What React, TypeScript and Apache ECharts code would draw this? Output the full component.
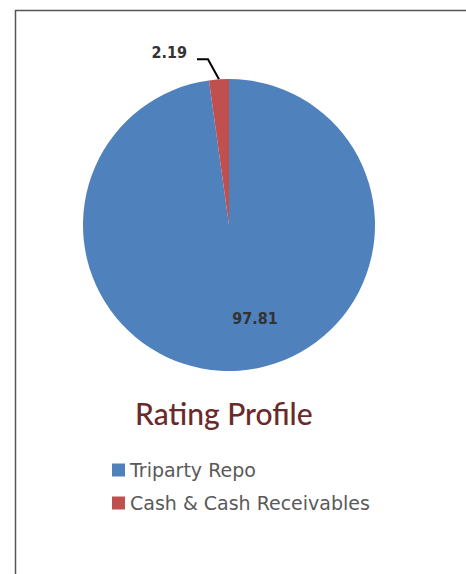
import React, { useEffect, useRef } from "react";
import * as echarts from "echarts";

const categories = ["Triparty Repo", "Cash & Cash Receivables"];
const values = [97.81, 2.19];
const colors = ["#4F81BD", "#C0504D"];
const titleText = "Rating Profile";

export default function App() {
  const ref = useRef<HTMLDivElement>(null);
  useEffect(() => {
    if (!ref.current) return;
    const chart = echarts.init(ref.current, null, { renderer: "svg" });
    chart.setOption({
      animation: false,
      graphic: [
        {
          type: "rect",
          shape: { x: 15.5, y: 10.5, width: 520, height: 620 },
          style: { fill: "none", stroke: "#555555", lineWidth: 1.5 },
          silent: true,
        },
        {
          type: "text",
          left: 135,
          top: 398,
          style: {
            text: titleText,
            fill: "#6B2A2A",
            font: "500 30px Lato",
          },
        },
      ],
      legend: {
        orient: "vertical",
        left: 107,
        top: 455,
        itemWidth: 13,
        itemHeight: 13,
        itemGap: 13,
        icon: "rect",
        data: categories,
        textStyle: {
          color: "#595959",
          fontSize: 19,
          fontFamily: "DejaVu Sans",
          lineHeight: 20,
        },
      },
      series: [
        {
          type: "pie",
          center: [229, 225],
          radius: 146,
          startAngle: 90,
          clockwise: true,
          data: categories.map((c, i) => ({
            name: c,
            value: values[i],
            itemStyle: { color: colors[i] },
          })),
          label: {
            show: true,
            formatter: (p: any) => p.value.toFixed(2),
            fontFamily: "DejaVu Sans Condensed",
            fontWeight: "bold",
            fontSize: 16,
            color: "#333333",
            position: "outside",
          },
          labelLine: {
            show: true,
            length: 20,
            length2: 10,
            lineStyle: { color: "#000000", width: 2 },
          },
          labelLayout: (params: any) => {
            if (params.dataIndex === 0) {
              const cx = 229;
              const cy = 225;
              return {
                x: cx + 26,
                y: cy + 93,
                align: "center",
                verticalAlign: "middle",
                labelLinePoints: [
                  [cx, cy],
                  [cx, cy],
                  [cx, cy],
                ],
              };
            }
            const p0 = params.labelLinePoints ? params.labelLinePoints[0] : [219, 79];
            return {
              x: p0[0] - 32,
              y: p0[1] - 27,
              align: "right",
              verticalAlign: "middle",
              labelLinePoints: [
                p0,
                [p0[0] - 11, p0[1] - 20],
                [p0[0] - 22, p0[1] - 20],
              ],
            };
          },
        },
      ],
    });
    return () => chart.dispose();
  }, []);
  return (
    <div
      ref={ref}
      style={{ position: "absolute", left: 0, top: 0, width: 466, height: 574 }}
    />
  );
}
